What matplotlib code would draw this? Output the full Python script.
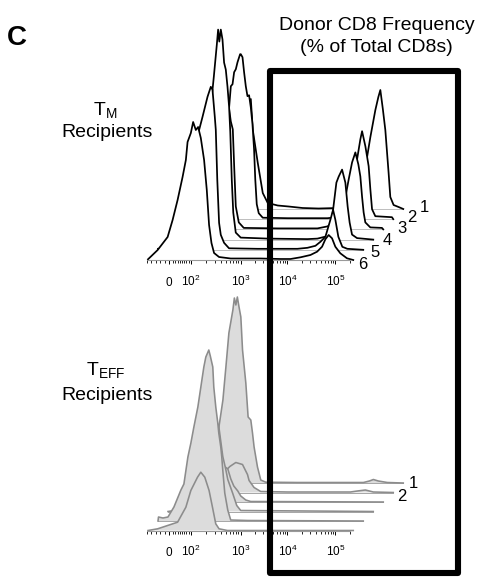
import numpy as np
import matplotlib
matplotlib.use("Agg")
import matplotlib.pyplot as plt
from matplotlib.transforms import offset_copy
from matplotlib.patches import Rectangle

plt.rcParams['font.family'] = ['Liberation Sans', 'DejaVu Sans']
plt.rcParams['mathtext.fontset'] = 'custom'
plt.rcParams['mathtext.rm'] = 'Liberation Sans'
plt.rcParams['mathtext.default'] = 'regular'

# display channel (biex scale) and event counts
# T_M recipients, sample 1 (back) .. 6 (front)
tm1_ch = [0, 10, 25, 35, 40, 45, 50, 53, 55, 60, 65, 70, 80, 91, 105, 121, 140, 150, 160, 165,
          169.7, 173, 178, 181, 183, 185.5, 188, 191.3, 193, 196.3, 201.3, 206]
tm1_h = [0.5, 2, 8, 30, 60, 90, 105, 110, 79, 46, 16, 6, 3.5, 2.5, 1, 0.5, 1, 3, 12, 25,
         52, 72, 99, 112, 119, 100, 79, 36, 12, 4, 2, 0]
tm2_ch = [0, 10, 20, 30, 36, 40.3, 43, 44.7, 46.3, 48, 49.7, 52.3, 53, 54.7, 56.3, 58, 59.7, 61.3, 63, 64.7,
          66.3, 67.5, 69, 71, 75, 100, 140, 150, 160, 165, 169.7, 173, 174.7, 178, 181.3, 183, 184.7, 188, 204.7, 206]
tm2_h = [0.5, 2, 6, 30, 70, 100, 133, 135, 147, 150, 157, 165, 165, 162, 147, 133, 123, 124, 112, 95,
         70, 40, 15, 6, 1.5, 1, 1, 2, 10, 30, 60, 80, 88, 73, 53, 30, 10, 3, 2, 0]
tm3_ch = [0, 15, 25, 33, 39, 43, 45, 47, 50, 53, 55, 56.5, 58, 61, 66, 100, 140, 150, 158, 163,
          166.3, 171.3, 174.7, 178, 181, 183, 184.7, 186.3, 188, 193, 204.7, 206]
tm3_h = [0.5, 3, 15, 50, 110, 150, 170, 155, 130, 108, 100, 60, 23, 7, 1.5, 1, 1, 3, 8, 15,
         23, 50, 67, 77, 65, 53, 33, 17, 7, 2, 1.5, 0]
tm4_ch = [0, 15, 25, 32, 38, 42, 44.7, 46, 49, 50.3, 51.5, 53, 54.7, 56.3, 58, 59.7, 61.3, 62.5, 64, 65.5,
          68, 73, 100, 140, 150, 158, 163, 165.7, 169, 171.3, 174.7, 178, 180.3, 182.3, 184.7, 189.7, 206]
tm4_h = [0.5, 3, 15, 45, 90, 125, 150, 163, 195, 210, 198, 210, 200, 177, 170, 153, 133, 108, 60, 27,
         7, 2, 1, 0.5, 1, 3, 10, 30, 57, 63, 70, 57, 33, 17, 5, 1.5, 0]
tm5_ch = [0, 10, 20, 28, 33, 37, 40, 44.7, 49.7, 53, 54.7, 57, 58, 59.5, 61.3, 63, 66.3, 71.3, 100, 140,
          150, 158, 163, 168, 173, 175.7, 178, 181, 185, 190, 206]
tm5_h = [1, 2, 8, 25, 55, 90, 115, 133, 153, 163, 160, 133, 120, 70, 27, 15, 7, 1.5, 1, 1,
         2, 4, 8, 13, 30, 40, 30, 13, 3, 1, 0]
tm6_ch = [0, 9.7, 19.7, 24.7, 29.7, 34.7, 38, 39.7, 43, 45.3, 48, 50.3, 53, 56.3, 59, 61.3, 63.7, 66.3, 71.3, 83,
          113, 133, 143, 153, 163, 169.7, 174.7, 178, 181.3, 184.7, 188, 193, 199.7, 206]
tm6_h = [0.7, 10, 23, 40, 60, 83, 100, 118, 127, 138, 130, 133, 122, 100, 70, 35, 17, 7, 3, 1.5,
         1.5, 1, 1, 2.7, 5, 8.3, 13.3, 20.7, 25, 21.7, 13.3, 6.7, 1.7, 0]

# T_EFF recipients
te1_ch = [0, 10, 15, 18, 21, 25, 28, 31, 35, 36.5, 38, 39.5, 41, 43, 44.7, 48, 50.3, 53, 54.7, 56.3,
          59.7, 63, 68, 100, 166, 172, 176, 181, 190, 206]
te1_h = [0, 3, 15, 35, 56, 83, 116, 150, 173, 185, 178, 186, 177, 166, 133, 100, 66, 63, 50, 36,
         16, 3, 0.8, 0.5, 0.5, 2, 3.5, 2, 0.5, 0]
te2_ch = [0, 10, 20, 30, 36, 42, 48, 54.7, 59.7, 61.3, 66.3, 73, 100, 163, 170, 178, 186, 206]
te2_h = [0, 1, 3, 10, 20, 26, 30, 28, 18, 12, 5, 1, 0.5, 0.5, 1.5, 2.5, 0.5, 0]
te3_ch = [0, 10, 20, 30, 36, 40, 46, 50, 53, 56, 60, 63, 68, 73, 206]
te3_h = [0, 1, 3, 10, 22, 30, 36, 33, 23, 16, 11, 6, 2, 0.5, 0]
te4_ch = [0, 10, 20, 28, 34, 40, 45, 51, 55, 58, 60, 65, 69, 73, 206]
te4_h = [0, 1.5, 5, 20, 50, 85, 100, 85, 55, 42, 32, 18, 6, 1, 0]
te5_ch = [0, 0.5, 5, 10, 16, 23, 26, 30, 33, 36, 40, 43, 46, 48, 51, 52.5, 55, 56, 58, 60,
          61, 63, 64, 65, 67, 70, 73, 90, 206]
te5_h = [0, 4, 3, 4, 14, 31, 37, 64, 78, 94, 114, 134, 154, 164, 171, 165, 154, 134, 114, 98,
         88, 74, 64, 51, 28, 11, 1, 0.5, 0]
te6_ch = [0, 9.7, 19.7, 29.7, 38, 43, 49.7, 53, 57, 61.3, 64.7, 68, 71.3, 79.7, 206]
te6_h = [0, 1.7, 5, 8.3, 23.3, 40, 53.3, 58.3, 53.3, 40, 23.3, 6.7, 1.7, 0, 0]

tick_pos = [21, 43, 93, 140, 188]
tick_lbl = ['0', '$10^2$', '$10^3$', '$10^4$', '$10^5$']
sample_lbl = ['1', '2', '3', '4', '5', '6']

tm_curves = [(tm1_ch, tm1_h), (tm2_ch, tm2_h), (tm3_ch, tm3_h),
             (tm4_ch, tm4_h), (tm5_ch, tm5_h), (tm6_ch, tm6_h)]
te_curves = [(te1_ch, te1_h), (te2_ch, te2_h), (te3_ch, te3_h),
             (te4_ch, te4_h), (te5_ch, te5_h), (te6_ch, te6_h)]

# minor ticks: linear part around 0, then log decades
minor_pos = [tick_pos[0] - 4.4 * j for j in range(1, 6)]
minor_pos += [tick_pos[0] + 2.2 * j for j in range(2, 10)]
for a, b in zip(tick_pos[1:-1], tick_pos[2:]):
    minor_pos += [a + (b - a) * np.log10(k) for k in range(2, 10)]
minor_pos.append(tick_pos[-1] + 48 * np.log10(2))

W, H = 478, 586
fig = plt.figure(figsize=(W / 100, H / 100), dpi=100)


def panel(base_py, curves, dy, fill, edge, base_col, lw, labels, lab_off):
    ax = fig.add_axes([147 / W, (H - base_py) / H, 280 / W, 240 / H])
    ax.set_xlim(0, 280)
    ax.set_ylim(0, 240)
    ax.patch.set_visible(False)
    for s in ['left', 'right', 'top']:
        ax.spines[s].set_visible(False)
    ax.spines['bottom'].set_bounds(0, 203)
    ax.spines['bottom'].set_color('#9a9a9a')
    ax.spines['bottom'].set_linewidth(0.8)
    ax.spines['bottom'].set_zorder(40)
    ax.set_yticks([])
    ax.set_xticks(tick_pos, tick_lbl)
    ax.set_xticks(minor_pos, minor=True)
    ax.tick_params(axis='x', which='major', length=3.2, width=0.7, pad=15.5,
                   labelsize=8.5, direction='out', color='black')
    ax.tick_params(axis='x', which='minor', length=2.0, width=0.6, direction='out', color='black')
    for t in ax.xaxis.get_major_ticks():
        t.label1.set_va('baseline')

    n = len(curves)
    for i, (ch, h) in enumerate(curves):
        k = n - 1 - i
        tr = offset_copy(ax.transData, fig=fig, x=10 * k, y=dy * k, units='dots')
        z = 2 + 3 * i
        ax.fill_between(ch, 0, h, transform=tr, facecolor=fill, edgecolor='none',
                        zorder=z, clip_on=False)
        if k > 0:
            ax.plot([ch[0], ch[-1]], [0, 0], transform=tr, color=base_col, lw=0.7,
                    zorder=z + 0.5, clip_on=False)
        ax.plot(ch, h, transform=tr, color=edge, lw=lw, zorder=z + 1, clip_on=False,
                solid_joinstyle='round')
        if i < len(labels):
            ax.annotate(labels[i], xy=(ch[-1], 0), xycoords=tr, xytext=lab_off[i],
                        textcoords='offset pixels', ha='center', va='center',
                        fontsize=12, zorder=50, annotation_clip=False)
    return ax


panel(260, tm_curves, 10.2, 'white', 'black', '#bdbdbd', 1.25, sample_lbl,
      [(21, 1.5), (19, 1.3), (19, 1), (14, -0.7), (12, -2.5), (9.5, -4)])
panel(530.5, te_curves, 9.5, '#dcdcdc', '#8c8c8c', '#a6a6a6', 1.15, sample_lbl[:2],
      [(10, 0), (9, -4)])

# gate box
box = Rectangle((270 / W, (H - 573) / H), 188 / W, 502.5 / H, transform=fig.transFigure,
                fill=False, edgecolor='black', lw=4.4, joinstyle='round', zorder=60)
fig.add_artist(box)

fig.text(17 / W, 1 - 45 / H, 'C', fontsize=20, fontweight='bold', ha='center', va='baseline')
fig.text(377 / W, 1 - 29.5 / H, 'Donor CD8 Frequency', fontsize=14, ha='center', va='baseline')
fig.text(376 / W, 1 - 51.5 / H, '(% of Total CD8s)', fontsize=14, ha='center', va='baseline')
fig.text(105 / W, 1 - 115 / H, '$T_M$', fontsize=14, ha='center', va='baseline')
fig.text(107 / W, 1 - 137 / H, 'Recipients', fontsize=14, ha='center', va='baseline')
fig.text(106 / W, 1 - 375 / H, '$T_{EFF}$', fontsize=14, ha='center', va='baseline')
fig.text(107 / W, 1 - 400 / H, 'Recipients', fontsize=14, ha='center', va='baseline')

fig.savefig('out.png', dpi=100)
